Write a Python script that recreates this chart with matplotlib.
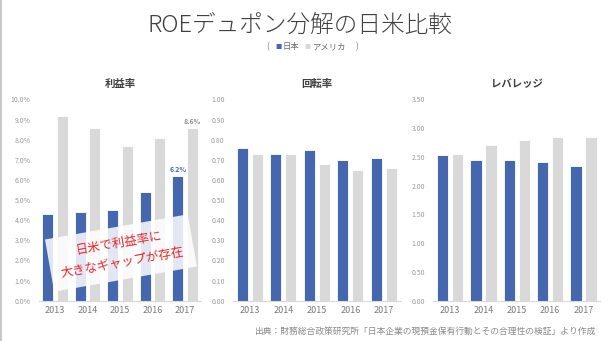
import matplotlib.pyplot as plt
from matplotlib.lines import Line2D
from matplotlib.ticker import FuncFormatter
import numpy as np

plt.rcParams['font.family'] = ['Noto Sans CJK JP', 'DejaVu Sans']

# data
years = ['2013', '2014', '2015', '2016', '2017']
margin_jp = [4.3, 4.4, 4.5, 5.4, 6.2]      # 利益率 (%)
margin_us = [9.2, 8.6, 7.7, 8.1, 8.6]
turnover_jp = [0.76, 0.73, 0.75, 0.70, 0.71]  # 回転率
turnover_us = [0.73, 0.73, 0.68, 0.65, 0.66]
leverage_jp = [2.53, 2.45, 2.45, 2.41, 2.35]  # レバレッジ
leverage_us = [2.56, 2.70, 2.80, 2.85, 2.84]

c_jp = '#4467b0'
c_us = '#d9d9d9'
c_txt = '#404040'
c_tick = '#9a9a9a'

W, H = 613, 341
fig = plt.figure(figsize=(W / 100, H / 100), dpi=100)

def px_axes(x0, x1, y0, y1):
    return fig.add_axes([x0 / W, 1 - y1 / H, (x1 - x0) / W, (y1 - y0) / H])

panels = [
    ('利益率', margin_jp, margin_us, 10, 1, lambda v, p: f'{v:.1f}%', (38.75, 201.25)),
    ('回転率', turnover_jp, turnover_us, 1.0, 0.1, lambda v, p: f'{v:.2f}', (233.0, 400.5)),
    ('レバレッジ', leverage_jp, leverage_us, 3.5, 0.5, lambda v, p: f'{v:.2f}', (433.3, 600.3)),
]

x = np.arange(len(years))
bw = 0.34
off = 0.225
axes = []
for title, jp, us, ymax, step, fmt, (xl, xr) in panels:
    ax = px_axes(xl, xr, 99.5, 300.7)
    ax.bar(x - off, jp, bw, color=c_jp, edgecolor='white', linewidth=0.6, zorder=2)
    ax.bar(x + off, us, bw, color=c_us, edgecolor='white', linewidth=0.6, zorder=2)
    ax.set_xlim(-0.5, len(years) - 0.5)
    ax.set_ylim(0, ymax)
    ax.set_yticks(np.arange(0, ymax + step / 2, step))
    ax.yaxis.set_major_formatter(FuncFormatter(fmt))
    ax.set_xticks(x)
    ax.set_xticklabels(years)
    ax.tick_params(axis='y', length=0, labelsize=5, labelcolor=c_tick, pad=6)
    ax.tick_params(axis='x', length=0, labelsize=6.5, labelcolor='#7a7a7a', pad=4)
    for s in ['top', 'right', 'left']:
        ax.spines[s].set_visible(False)
    ax.spines['bottom'].set_color('#d9d9d9')
    ax.spines['bottom'].set_linewidth(0.8)
    ax.set_title(title, fontsize=7.5, color=c_txt, fontweight='bold', pad=9)
    axes.append(ax)

# value labels on the 2017 profit margin bars
ax1 = axes[0]
ax1.text(x[-1] - off, margin_jp[-1] + 0.15, f'{margin_jp[-1]:.1f}%', ha='center', va='bottom',
         fontsize=5, color=c_jp, fontweight='bold')
ax1.text(x[-1] + off, margin_us[-1] + 0.15, f'{margin_us[-1]:.1f}%', ha='center', va='bottom',
         fontsize=5, color='#8a8a8a', fontweight='bold')

# callout box
ax1.text(2.03, 2.37, '日米で利益率に\n大きなギャップが存在', ha='center', va='center',
         rotation=10, rotation_mode='anchor', fontsize=9, color='#e8262a',
         linespacing=1.7, zorder=5,
         bbox=dict(boxstyle='square,pad=0.8', facecolor='white', edgecolor='none', alpha=0.85))

# title and legend line
fig.text(300 / W, 1 - 25 / H, 'ROEデュポン分解の日米比較', ha='center', va='center',
         fontsize=17, color=c_txt, fontweight='light')
ly = 1 - 47 / H
fig.text(268 / W, ly, '(', ha='center', va='center', fontsize=6, color='#7a7a7a')
fig.text(278 / W, ly, '■', ha='center', va='center', fontsize=4.5, color=c_jp)
fig.text(283 / W, ly, '日本', ha='left', va='center', fontsize=6, color='#6a6a6a')
fig.text(307.5 / W, ly, '■', ha='center', va='center', fontsize=4.5, color=c_us)
fig.text(313 / W, ly, 'アメリカ', ha='left', va='center', fontsize=6, color='#6a6a6a')
fig.text(357 / W, ly, ')', ha='center', va='center', fontsize=6, color='#7a7a7a')

# source
fig.text(595 / W, 1 - 331 / H,
         '出典：財務総合政策研究所「日本企業の現預金保有行動とその合理性の検証」より作成',
         ha='right', va='center', fontsize=6.3, color='#8a8a8a')

# left border
fig.add_artist(Line2D([0.8 / W, 0.8 / W], [0, 1], color='#bdbdbd', linewidth=1.2))

fig.savefig('out.png', dpi=100)
